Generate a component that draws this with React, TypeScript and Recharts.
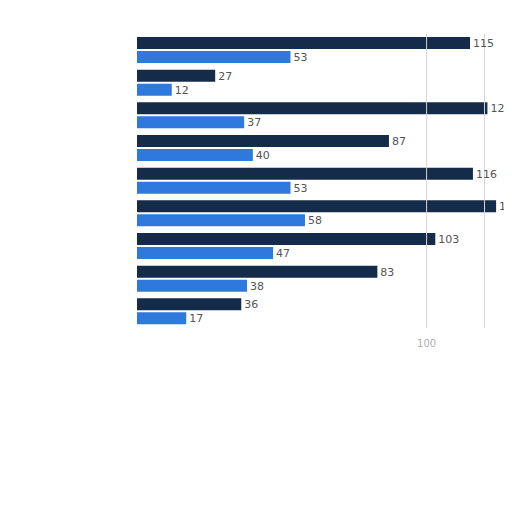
import { BarChart, Bar, XAxis, YAxis, ReferenceLine, LabelList } from 'recharts';

const categories = ['A', 'B', 'C', 'D', 'E', 'F', 'G', 'H', 'I'];
const seriesDark = [115, 27, 121, 87, 116, 124, 103, 83, 36];
const seriesBlue = [53, 12, 37, 40, 53, 58, 47, 38, 17];
const xTicks = [100];
const gridLines = [100, 120];

const data = categories.map((c, i) => ({ name: c, dark: seriesDark[i], blue: seriesBlue[i] }));

const DARK = '#152b4a';
const BLUE = '#2f78dc';

export default function App() {
  return (
    <div style={{ width: 504, height: 364, fontFamily: 'DejaVu Sans, sans-serif' }}>
      <BarChart
        width={504}
        height={364}
        data={data}
        layout="vertical"
        margin={{ top: 26, right: 13, left: 129, bottom: 14 }}
        barCategoryGap={4}
        barGap={2}
      >
        {gridLines.map((g) => (
          <ReferenceLine key={g} x={g} stroke="#d6d6d6" />
        ))}
        <XAxis
          type="number"
          domain={[0, 125]}
          ticks={xTicks}
          axisLine={false}
          tickLine={false}
          tick={{ fill: '#b0b0b0', fontSize: 10, dy: 4 }}
          height={30}
        />
        <YAxis
          type="category"
          dataKey="name"
          width={0}
          tick={false}
          tickLine={false}
          axisLine={{ stroke: '#d0d0d0' }}
        />
        <Bar dataKey="dark" fill={DARK} barSize={12} isAnimationActive={false}>
          <LabelList dataKey="dark" position="right" offset={3} fill="#555" fontSize={11} />
        </Bar>
        <Bar dataKey="blue" fill={BLUE} barSize={12} isAnimationActive={false}>
          <LabelList dataKey="blue" position="right" offset={3} fill="#555" fontSize={11} />
        </Bar>
      </BarChart>
    </div>
  );
}
